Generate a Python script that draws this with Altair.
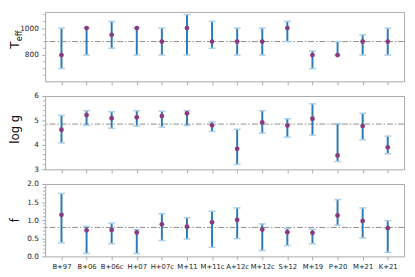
import altair as alt
import pandas as pd

categories = ["B+97", "B+06", "B+06c", "H+07", "H+07c", "M+11", "M+11c",
              "A+12c", "M+12c", "S+12", "M+19", "P+20", "M+21", "K+21"]

teff = [800, 1000, 950, 1000, 900, 1000, 900, 900, 900, 1000, 800, 800, 900, 900]
teff_lo = [700, 800, 850, 800, 800, 800, 850, 800, 800, 900, 700, 800, 800, 800]
teff_hi = [1000, 1000, 1050, 1000, 1000, 1100, 1050, 1000, 1000, 1050, 830, 900, 950, 1000]
teff_ref = 900

logg = [4.62, 5.22, 5.09, 5.13, 5.18, 5.29, 4.80, 3.84, 4.92, 4.79, 5.07, 3.57, 4.77, 3.90]
logg_lo = [4.08, 4.80, 4.68, 4.77, 4.73, 4.79, 4.55, 3.20, 4.48, 4.32, 4.40, 3.32, 4.21, 3.64]
logg_hi = [5.21, 5.40, 5.36, 5.40, 5.38, 5.40, 4.94, 4.64, 5.40, 5.07, 5.68, 4.87, 5.29, 4.36]
logg_ref = 4.85

fval = [1.15, 0.72, 0.73, 0.66, 0.885, 0.82, 0.94, 1.01, 0.74, 0.67, 0.65, 1.13, 0.98, 0.78]
f_lo = [0.375, 0.08, 0.35, 0.08, 0.44, 0.48, 0.25, 0.49, 0.16, 0.30, 0.35, 0.86, 0.51, 0.11]
f_hi = [1.74, 0.83, 0.92, 0.74, 1.18, 1.07, 1.25, 1.34, 0.90, 0.77, 0.75, 1.57, 1.34, 0.99]
f_ref = 0.8

teff_major = [800, 1000]
teff_minor = [650, 700, 750, 850, 900, 950, 1050, 1100]
logg_major = [3, 4, 5, 6]
logg_minor = [3.2, 3.4, 3.6, 3.8, 4.2, 4.4, 4.6, 4.8, 5.2, 5.4, 5.6, 5.8]
f_major = [0, 0.5, 1, 1.5, 2]
f_minor = [0.1, 0.2, 0.3, 0.4, 0.6, 0.7, 0.8, 0.9, 1.1, 1.2, 1.3, 1.4,
           1.6, 1.7, 1.8, 1.9]

FONT = "DejaVu Sans"
GRAY = "#a8a8a8"
BAR = "#2a7ab9"
CAP = "#a9cfea"
PT = "#8b3a7e"
REF = "#8c8c8c"
W = 367


def panel(vals, lo, hi, ref, domain, majors, minors, fmt, height,
          show_labels, titles):
    df = pd.DataFrame({"cat": categories, "val": vals, "lo": lo, "hi": hi})
    xaxis = alt.Axis(labels=show_labels, labelAngle=0, labelFont=FONT,
                     labelFontSize=7, labelColor="#222", labelPadding=2.5,
                     tickSize=3.5, tickColor=GRAY, domain=False,
                     ticks=True, title=None, grid=False)
    x = alt.X("cat:N", sort=categories,
              scale=alt.Scale(type="point", padding=0.65), axis=xaxis)
    yaxis = alt.Axis(values=majors, format=fmt, tickSize=3.5,
                     labelOverlap=False, labelFont=FONT, labelFontSize=7.5,
                     labelColor="#222", labelPadding=3.5, tickColor=GRAY,
                     domain=False, title=None, grid=False)
    yscale = alt.Scale(domain=domain, nice=False, zero=False)

    def Y(field):
        return alt.Y(field, scale=yscale, axis=yaxis, title=None)

    base = alt.Chart(df)
    refline = alt.Chart(pd.DataFrame({"ref": [ref]})).mark_rule(
        color=REF, strokeDash=[6, 2, 1.5, 2], strokeWidth=1).encode(y=Y("ref:Q"))
    minor_ticks = alt.Chart(pd.DataFrame({"m": minors})).mark_rule(
        color=GRAY, strokeWidth=1).encode(
        y=Y("m:Q"), x=alt.value(-2), x2=alt.value(0))
    bars = base.mark_rule(color=BAR, strokeWidth=2).encode(
        x=x, y=Y("lo:Q"), y2="hi:Q")
    cap_lo = base.mark_tick(color=CAP, size=7, thickness=1.5, opacity=1).encode(
        x=x, y=Y("lo:Q"))
    cap_hi = base.mark_tick(color=CAP, size=7, thickness=1.5, opacity=1).encode(
        x=x, y=Y("hi:Q"))
    pts = base.mark_circle(color=PT, size=24, opacity=1).encode(
        x=x, y=Y("val:Q"))
    layers = [refline, minor_ticks, bars, cap_lo, cap_hi, pts]
    for t in titles:
        tdf = pd.DataFrame({"t": [t["text"]]})
        layers.append(
            alt.Chart(tdf).mark_text(
                font=FONT, fontSize=t["size"], angle=270, align="center",
                baseline="top", color="#111").encode(
                x=alt.value(t["x"]), y=alt.value(t["y"]), text="t:N"))
    return alt.layer(*layers).properties(width=W, height=height)


top = panel(teff, teff_lo, teff_hi, teff_ref, [605, 1120],
            teff_major, teff_minor, "d", 71, False,
            [{"text": "T", "size": 12, "x": -36, "y": 34},
             {"text": "eff", "size": 8.5, "x": -30.7, "y": 24.5}])
mid = panel(logg, logg_lo, logg_hi, logg_ref, [3, 6],
            logg_major, logg_minor, "d", 75, False,
            [{"text": "log g", "size": 12, "x": -36, "y": 34}])
bot = panel(fval, f_lo, f_hi, f_ref, [0, 2],
            f_major, f_minor, ".1f", 74, True,
            [{"text": "f", "size": 12, "x": -36, "y": 37}])

chart = alt.vconcat(top, mid, bot, spacing=15, bounds="flush").configure_view(
    stroke=GRAY, strokeWidth=1).properties(
    padding={"left": 0, "top": 0, "right": 2, "bottom": 0})

chart.save("out.html", embed_options={"renderer": "svg", "actions": False})
